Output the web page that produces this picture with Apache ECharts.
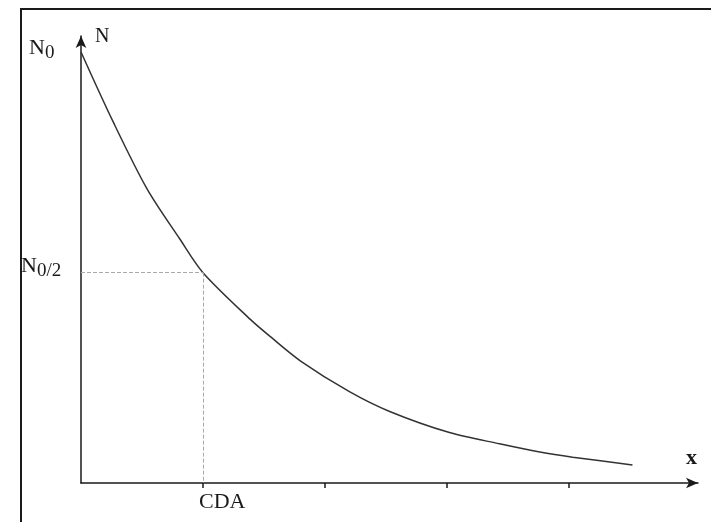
<!DOCTYPE html>
<html>
<head>
<meta charset="utf-8">
<script src="https://cdn.jsdelivr.net/npm/echarts@6/dist/echarts.min.js"></script>
<style>
  html, body { margin: 0; padding: 0; background: #fff; }
  #main { width: 711px; height: 522px; }
</style>
</head>
<body>
<div id="main"></div>
<script>
// curve (x in tick units, N as a fraction of N0)
var xValues = [0, 0.26, 0.54, 0.81, 1.0, 1.39, 1.55, 1.80, 2.20, 2.53, 3.02, 3.43, 3.76, 4.03, 4.52];
var nValues = [1.0, 0.840, 0.683, 0.566, 0.488, 0.379, 0.340, 0.283, 0.212, 0.166, 0.117, 0.091, 0.072, 0.060, 0.042];
var tickValues = [1, 2, 3, 4];
var cdaX = 1;
var halfN = 0.488;

var serif = 'Liberation Serif';
var ink = '#1a1a1a';

var myChart = echarts.init(document.getElementById('main'));

var points = [];
for (var i = 0; i < xValues.length; i++) {
    points.push([xValues[i], nValues[i]]);
}

var option = {
    animation: false,
    backgroundColor: '#fff',
    grid: { left: 81, right: 13, top: 36, bottom: 39 },
    xAxis: {
        type: 'value',
        min: 0,
        max: 5.057,
        splitLine: { show: false },
        axisLine: {
            lineStyle: { color: ink, width: 1.5 },
            symbol: ['none', 'arrow'],
            symbolSize: [8, 12]
        },
        axisTick: {
            customValues: tickValues,
            length: 5,
            inside: false,
            lineStyle: { color: ink, width: 1.5 }
        },
        axisLabel: {
            customValues: [cdaX],
            formatter: function () { return 'CDA'; },
            fontFamily: serif,
            fontSize: 22,
            color: ink,
            align: 'left',
            padding: [0, 0, 0, -4],
            margin: 8
        }
    },
    yAxis: {
        type: 'value',
        min: 0,
        max: 1.037,
        splitLine: { show: false },
        axisTick: { show: false },
        axisLabel: { show: false },
        axisLine: {
            show: true,
            lineStyle: { color: ink, width: 1.5 },
            symbol: ['none', 'arrow'],
            symbolSize: [8, 12]
        }
    },
    graphic: [
        {
            type: 'rect',
            shape: { x: 21, y: 9, width: 740, height: 560 },
            style: { fill: 'none', stroke: ink, lineWidth: 2 },
            silent: true
        },
        {
            type: 'text', left: 95, top: 27,
            style: { text: 'N', font: '20px "Liberation Serif"', fill: ink }
        },
        {
            type: 'text', left: 686, top: 447,
            style: { text: 'x', font: 'bold 22px "Liberation Serif"', fill: ink }
        },
        {
            type: 'text', left: 29, top: 37,
            style: {
                text: '{a|N}{b|0}',
                rich: {
                    a: { fontFamily: serif, fontSize: 22, fill: ink, color: ink },
                    b: { fontFamily: serif, fontSize: 19, fill: ink, color: ink, padding: [10, 0, 0, 0] }
                }
            }
        },
        {
            type: 'text', left: 21, top: 255,
            style: {
                text: '{a|N}{b|0/2}',
                rich: {
                    a: { fontFamily: serif, fontSize: 22, fill: ink, color: ink },
                    b: { fontFamily: serif, fontSize: 19, fill: ink, color: ink, padding: [10, 0, 0, 0] }
                }
            }
        }
    ],
    series: [{
        type: 'line',
        data: points,
        smooth: 0.3,
        showSymbol: false,
        lineStyle: { color: '#333', width: 1.5 },
        markLine: {
            silent: true,
            symbol: 'none',
            label: { show: false },
            lineStyle: { color: '#aaa', width: 1, type: 'dashed' },
            data: [
                [{ coord: [0, halfN] }, { coord: [cdaX, halfN] }],
                [{ coord: [cdaX, halfN] }, { coord: [cdaX, 0] }]
            ]
        }
    }]
};

myChart.setOption(option);
</script>
</body>
</html>
